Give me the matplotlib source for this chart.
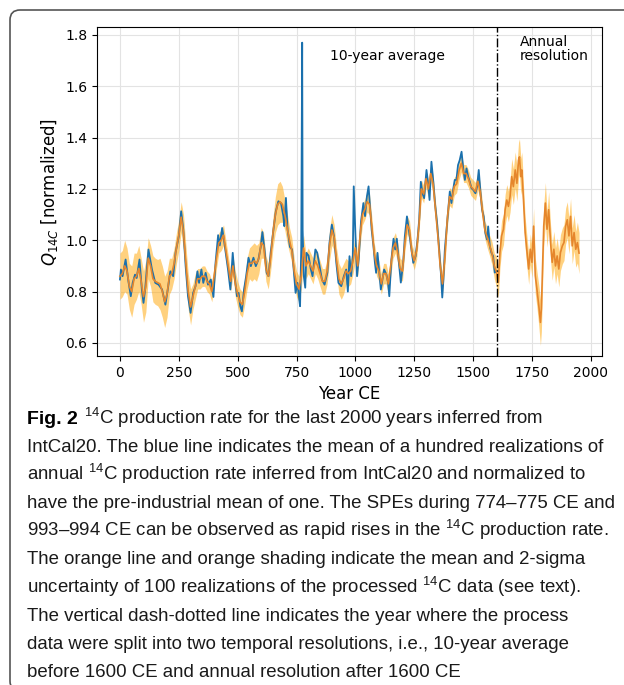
import numpy as np
import matplotlib
matplotlib.use('Agg')
import matplotlib.pyplot as plt
from matplotlib.patches import FancyBboxPatch

# annual 14C production rate (blue)
blue_years = [0, 4, 11, 24, 36, 46, 54, 64, 71, 83, 93, 100, 107, 121, 136, 150, 164, 179, 193,
              203, 214, 226, 236, 250, 260, 269, 279, 289, 300, 311, 321, 329, 336, 346, 354,
              364, 374, 386, 397, 406, 417, 424, 434, 441, 451, 459, 469, 479, 487, 497, 504,
              511, 518, 527, 536, 546, 556, 567, 577, 588, 598, 605, 614, 623, 631, 640, 652,
              662, 673, 684, 694, 698, 705, 712, 722, 731, 740, 746, 754, 760, 765, 770, 774,
              776, 781, 787, 792, 801, 810, 818, 830, 838, 848, 858, 869, 881, 890, 900, 909,
              919, 928, 940, 951, 961, 968, 975, 982, 989, 993, 1000, 1007, 1014, 1024, 1034,
              1041, 1049, 1056, 1063, 1069, 1077, 1083, 1088, 1094, 1103, 1108, 1115, 1122,
              1132, 1139, 1144, 1153, 1162, 1169, 1176, 1183, 1193, 1203, 1210, 1219, 1227,
              1236, 1246, 1256, 1264, 1271, 1278, 1285, 1292, 1302, 1309, 1315, 1323, 1331,
              1338, 1347, 1356, 1363, 1369, 1374, 1380, 1387, 1394, 1401, 1408, 1415, 1422,
              1429, 1436, 1443, 1451, 1458, 1465, 1472, 1479, 1486, 1493, 1501, 1510, 1517,
              1524, 1531, 1538, 1545, 1552, 1559, 1564, 1571, 1578, 1585, 1592, 1600]
blue_vals = [0.847, 0.886, 0.860, 0.925, 0.840, 0.782, 0.834, 0.866, 0.853, 0.925, 0.808, 0.756,
             0.808, 0.964, 0.886, 0.834, 0.827, 0.808, 0.749, 0.808, 0.879, 0.860, 0.951, 1.016,
             1.113, 1.042, 0.899, 0.782, 0.717, 0.795, 0.821, 0.879, 0.834, 0.886, 0.834, 0.873,
             0.827, 0.847, 0.779, 0.912, 1.020, 0.980, 1.048, 1.006, 0.938, 0.886, 0.808, 0.951,
             0.860, 0.782, 0.795, 0.743, 0.723, 0.808, 0.860, 0.932, 0.899, 0.932, 0.899, 0.925,
             0.974, 1.032, 0.964, 0.873, 0.860, 0.951, 1.042, 1.113, 1.152, 1.145, 1.094, 1.055,
             1.165, 1.042, 0.974, 0.964, 0.860, 0.795, 0.834, 0.782, 0.743, 0.964, 1.770, 1.040,
             0.860, 0.815, 0.951, 0.940, 0.890, 0.860, 0.964, 0.951, 0.899, 0.847, 0.827, 0.873,
             0.990, 1.061, 1.016, 0.912, 0.834, 0.821, 0.860, 0.886, 0.800, 0.938, 0.860, 0.938,
             1.210, 1.026, 0.860, 0.925, 1.074, 1.145, 1.094, 1.171, 1.210, 1.120, 1.042, 0.974,
             0.912, 0.873, 0.951, 0.860, 0.808, 0.847, 0.886, 0.866, 0.834, 0.782, 0.925, 1.006,
             0.964, 1.006, 0.930, 0.835, 0.912, 1.015, 1.093, 1.041, 0.977, 0.912, 0.938, 1.003,
             1.080, 1.228, 1.183, 1.164, 1.274, 1.222, 1.157, 1.306, 1.228, 1.145, 1.067, 0.964,
             0.874, 0.777, 0.848, 0.964, 1.041, 1.119, 1.190, 1.145, 1.196, 1.235, 1.235, 1.293,
             1.312, 1.345, 1.280, 1.235, 1.280, 1.248, 1.228, 1.203, 1.196, 1.183, 1.209, 1.274,
             1.190, 1.119, 1.093, 1.028, 1.003, 1.054, 0.977, 0.951, 0.938, 0.874, 0.880]

# processed data (orange): 10-year averages before 1600 CE
dec_years = list(range(0, 1600, 10))
dec_mean = [0.86, 0.87, 0.90, 0.88, 0.82, 0.80, 0.85, 0.86, 0.89, 0.84,
            0.78, 0.82, 0.93, 0.90, 0.85, 0.84, 0.835, 0.83, 0.80, 0.76,
            0.79, 0.86, 0.87, 0.91, 0.97, 1.02, 1.09, 1.03, 0.91, 0.80,
            0.74, 0.78, 0.82, 0.85, 0.85, 0.86, 0.86, 0.84, 0.83, 0.80,
            0.86, 0.93, 0.99, 1.00, 1.02, 0.96, 0.90, 0.84, 0.90, 0.83,
            0.79, 0.76, 0.75, 0.80, 0.87, 0.91, 0.91, 0.92, 0.91, 0.93,
            0.99, 0.98, 0.89, 0.86, 0.93, 1.03, 1.10, 1.14, 1.15, 1.14,
            1.10, 1.05, 1.00, 0.96, 0.88, 0.83, 0.81, 0.86, 0.97, 0.90,
            0.92, 0.90, 0.88, 0.92, 0.90, 0.87, 0.84, 0.84, 0.88, 0.98,
            1.04, 1.01, 0.92, 0.85, 0.83, 0.85, 0.88, 0.87, 0.88, 0.92,
            0.97, 0.90, 1.02, 1.10, 1.12, 1.15, 1.14, 1.05, 0.95, 0.90,
            0.88, 0.83, 0.87, 0.87, 0.83, 0.90, 0.97, 0.99, 0.95, 0.89,
            0.88, 0.99, 1.06, 1.04, 0.95, 0.92, 0.96, 1.06, 1.20, 1.18,
            1.24, 1.20, 1.26, 1.22, 1.12, 1.02, 0.90, 0.83, 0.93, 1.08,
            1.17, 1.16, 1.21, 1.22, 1.27, 1.30, 1.26, 1.26, 1.24, 1.21,
            1.20, 1.19, 1.23, 1.19, 1.11, 1.04, 1.01, 0.98, 0.95, 0.90]
# 2-sigma half width
dec_hw = [0.09, 0.09, 0.10, 0.09, 0.09, 0.10, 0.10, 0.09, 0.09, 0.09,
          0.10, 0.10, 0.08, 0.08, 0.09, 0.09, 0.09, 0.10, 0.10, 0.10,
          0.09, 0.07, 0.06, 0.06, 0.06, 0.06, 0.06, 0.07, 0.07, 0.07,
          0.07, 0.05, 0.05, 0.04, 0.04, 0.04, 0.04, 0.04, 0.04, 0.04,
          0.04, 0.04, 0.04, 0.04, 0.04, 0.04, 0.04, 0.04, 0.04, 0.05,
          0.05, 0.05, 0.05, 0.05, 0.06, 0.06, 0.07, 0.07, 0.07, 0.06,
          0.06, 0.05, 0.05, 0.05, 0.05, 0.06, 0.07, 0.08, 0.08, 0.07,
          0.06, 0.06, 0.05, 0.05, 0.05, 0.05, 0.05, 0.05, 0.05, 0.05,
          0.05, 0.05, 0.05, 0.05, 0.05, 0.05, 0.05, 0.05, 0.05, 0.06,
          0.06, 0.05, 0.05, 0.06, 0.06, 0.06, 0.05, 0.05, 0.05, 0.05,
          0.05, 0.04, 0.04, 0.04, 0.04, 0.04, 0.04, 0.04, 0.04, 0.04,
          0.04, 0.04, 0.04, 0.04, 0.04, 0.04, 0.04, 0.04, 0.04, 0.04,
          0.04, 0.035, 0.035, 0.035, 0.035, 0.035, 0.035, 0.035, 0.035, 0.035,
          0.035, 0.035, 0.035, 0.035, 0.035, 0.035, 0.035, 0.035, 0.035, 0.035,
          0.035, 0.035, 0.035, 0.035, 0.035, 0.035, 0.035, 0.035, 0.035, 0.035,
          0.035, 0.035, 0.035, 0.035, 0.035, 0.035, 0.04, 0.04, 0.045, 0.05]

# processed data (orange): annual resolution after 1600 CE
ann_years = [1600, 1607, 1614, 1621, 1629, 1636, 1643, 1650, 1657, 1664, 1671, 1679, 1686,
             1693, 1697, 1703, 1707, 1714, 1721, 1729, 1736, 1743, 1750, 1757, 1764, 1771,
             1779, 1786, 1790, 1796, 1800, 1807, 1814, 1821, 1829, 1836, 1843, 1850, 1857,
             1864, 1871, 1879, 1886, 1893, 1900, 1907, 1914, 1921, 1929, 1936, 1943, 1950]
ann_mean = [0.875, 0.836, 0.952, 1.017, 1.043, 1.119, 1.157, 1.132, 1.170, 1.248, 1.209, 1.274,
            1.222, 1.312, 1.325, 1.248, 1.274, 1.157, 1.030, 0.952, 0.888, 0.965, 0.914, 1.055,
            0.862, 0.810, 0.746, 0.680, 0.733, 0.927, 1.055, 1.145, 1.043, 1.119, 0.991, 0.914,
            0.965, 0.900, 0.939, 0.888, 0.952, 0.978, 0.991, 1.055, 1.080, 1.017, 1.093, 0.978,
            1.030, 0.965, 0.991, 0.950]
ann_hw = [0.06, 0.06, 0.06, 0.06, 0.06, 0.06, 0.06, 0.06, 0.06, 0.07, 0.07, 0.07, 0.07,
          0.07, 0.07, 0.07, 0.07, 0.06, 0.06, 0.06, 0.06, 0.06, 0.06, 0.07, 0.07, 0.07,
          0.08, 0.09, 0.09, 0.08, 0.08, 0.08, 0.07, 0.07, 0.07, 0.07, 0.07, 0.07, 0.07,
          0.07, 0.07, 0.07, 0.07, 0.07, 0.07, 0.07, 0.07, 0.07, 0.07, 0.07, 0.08, 0.08]

caption_lines = [
    r"$^{14}$C production rate for the last 2000 years inferred from",
    "IntCal20. The blue line indicates the mean of a hundred realizations of",
    r"annual $^{14}$C production rate inferred from IntCal20 and normalized to",
    "have the pre-industrial mean of one. The SPEs during 774–775 CE and",
    r"993–994 CE can be observed as rapid rises in the $^{14}$C production rate.",
    "The orange line and orange shading indicate the mean and 2-sigma",
    r"uncertainty of 100 realizations of the processed $^{14}$C data (see text).",
    "The vertical dash-dotted line indicates the year where the process",
    "data were split into two temporal resolutions, i.e., 10-year average",
    "before 1600 CE and annual resolution after 1600 CE",
]

cap_font = 'Liberation Sans'
cap_size = 13.4

plt.rcParams['mathtext.fontset'] = 'custom'
plt.rcParams['mathtext.rm'] = cap_font
plt.rcParams['mathtext.it'] = cap_font + ':italic'
plt.rcParams['mathtext.bf'] = cap_font + ':bold'

W, H = 624, 685
fig = plt.figure(figsize=(W / 100, H / 100), dpi=100)
ax = fig.add_axes([97 / W, 1 - 356 / H, 505 / W, 329 / H])

o_years = np.array(dec_years + ann_years)
o_mean = np.array(dec_mean + ann_mean)
o_hw = np.array(dec_hw + ann_hw)

ax.fill_between(o_years, o_mean - o_hw, o_mean + o_hw, color='orange', alpha=0.5, lw=0, zorder=2)
ax.plot(blue_years, blue_vals, color='#1a70ad', lw=1.3, zorder=3)
ax.plot(o_years, o_mean, color='#e5862c', lw=1.2, zorder=4)
ax.axvline(1600, color='k', ls='-.', lw=1.0, zorder=5)

ax.text(1136, 1.718, '10-year average', ha='center', va='center', fontsize=10)
ax.text(1699, 1.746, 'Annual\nresolution', ha='left', va='center', fontsize=10, linespacing=1.05)

ax.set_xlim(-97.5, 2047.5)
ax.set_ylim(0.549, 1.831)
ax.set_xticks([0, 250, 500, 750, 1000, 1250, 1500, 1750, 2000])
ax.set_yticks([0.6, 0.8, 1.0, 1.2, 1.4, 1.6, 1.8])
ax.tick_params(labelsize=10)
ax.grid(color='#e3e3e3', lw=0.8)
ax.set_axisbelow(True)
ax.set_xlabel('Year CE', fontsize=12, labelpad=4)
ax.set_ylabel(r'$Q_{14C}$ [normalized]', fontsize=12, math_fontfamily='dejavusans')

# rounded frame around figure + caption
frame = FancyBboxPatch((0.10, -0.06), 7.0, 6.81, boxstyle='round,pad=0,rounding_size=0.1',
                       transform=fig.dpi_scale_trans, fill=False, ec='#555555', lw=1.2)
fig.add_artist(frame)

# caption
y0 = 423.5
step = 28.2
fig.text(27 / W, 1 - y0 / H, 'Fig. 2', fontsize=14, fontweight='bold',
         family='Liberation Sans', va='baseline', ha='left')
for i, line in enumerate(caption_lines):
    x = 84 if i == 0 else 27
    fig.text(x / W, 1 - (y0 + i * step) / H, line, fontsize=cap_size, family=cap_font,
             va='baseline', ha='left', color='#1a1a1a')

fig.savefig('out.png', dpi=100)
